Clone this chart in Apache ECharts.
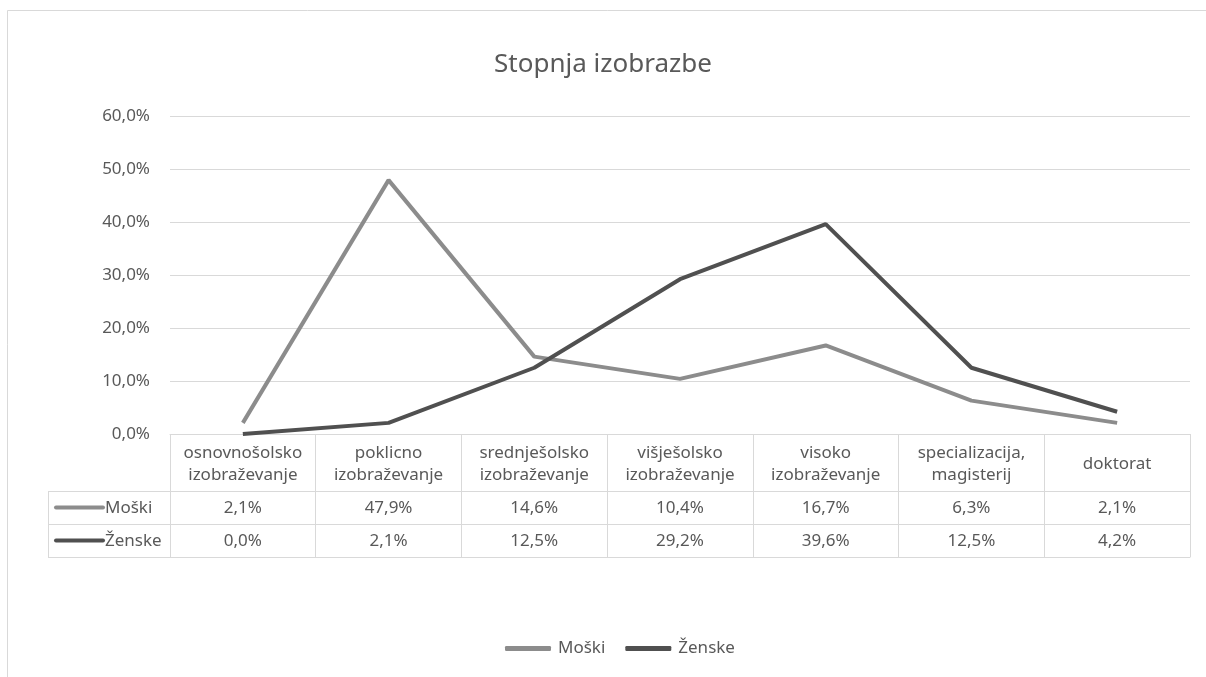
<!DOCTYPE html>
<html>
<head>
<meta charset="utf-8">
<script src="https://cdn.jsdelivr.net/npm/echarts@6/dist/echarts.min.js"></script>
<style>
  html, body { margin: 0; padding: 0; background: #fff; }
  #chart { width: 1206px; height: 677px; }
</style>
</head>
<body>
<div id="chart"></div>
<script>
// podatki
var categories = ['osnovnošolsko\nizobraževanje', 'poklicno\nizobraževanje', 'srednješolsko\nizobraževanje',
  'višješolsko\nizobraževanje', 'visoko\nizobraževanje', 'specializacija,\nmagisterij', 'doktorat'];
var moski = [2.1, 47.9, 14.6, 10.4, 16.7, 6.3, 2.1];
var zenske = [0.0, 2.1, 12.5, 29.2, 39.6, 12.5, 4.2];
var seriesNames = ['Moški', 'Ženske'];
var yMin = 0, yMax = 60, yStep = 10;

var colMoski = '#8c8c8c';
var colZenske = '#505050';
var textCol = '#595959';
var lineCol = '#d9d9d9';
var font = 'Noto Sans';
var fs = 17;

function fmt(v) {
  return v.toFixed(1).replace('.', ',') + '%';
}

// postavitev tabele
var gridLeft = 170, gridRight = 16, gridTop = 116, gridBottom = 243;
var tableLeft = 48;
var headH = 57, rowH = 33;
var axisY = 677 - gridBottom;

function rowLabel(y, name, color) {
  return {
    type: 'group',
    children: [
      { type: 'line', shape: { x1: 56, y1: y + rowH / 2, x2: 103, y2: y + rowH / 2 },
        style: { stroke: color, lineWidth: 4, lineCap: 'round' } },
      { type: 'text', x: 105, y: y + rowH / 2 + 1,
        style: { text: name, fill: textCol, font: fs + 'px "' + font + '"', textVerticalAlign: 'middle' } }
    ]
  };
}

function hLine(y) {
  return { type: 'line', shape: { x1: tableLeft, y1: y + 0.5, x2: gridLeft, y2: y + 0.5 },
    style: { stroke: lineCol, lineWidth: 1 } };
}

var chartDom = document.getElementById('chart');
var myChart = echarts.init(chartDom);
var option;

option = {
  backgroundColor: '#fff',
  animation: false,
  title: {
    text: 'Stopnja izobrazbe',
    left: 'center',
    top: 47,
    textStyle: { color: textCol, fontSize: 26, fontWeight: 'normal', fontFamily: font }
  },
  legend: {
    bottom: 15,
    left: 500,
    icon: 'roundRect',
    itemWidth: 46,
    itemHeight: 5,
    itemGap: 20,
    data: seriesNames,
    textStyle: { color: textCol, fontSize: fs, fontFamily: font, padding: [0, 0, 0, 2] }
  },
  grid: { left: gridLeft, right: gridRight, top: gridTop, bottom: gridBottom },
  xAxis: [
    {
      type: 'category', data: categories, boundaryGap: true,
      axisLine: { lineStyle: { color: lineCol } },
      axisTick: { show: true, interval: 0, length: headH, lineStyle: { color: lineCol } },
      axisLabel: {
        interval: 0, color: textCol, fontSize: fs, lineHeight: 22, margin: 8, fontFamily: font,
        formatter: function (v) {
          return v.indexOf('\n') < 0 ? '{one|' + v + '}' : v;
        },
        rich: { one: { fontSize: fs, lineHeight: 44, color: textCol, fontFamily: font } }
      }
    },
    {
      type: 'category', data: moski.map(fmt), position: 'bottom', offset: headH,
      axisLine: { lineStyle: { color: lineCol } },
      axisTick: { show: true, interval: 0, length: rowH, lineStyle: { color: lineCol } },
      axisLabel: { interval: 0, color: textCol, fontSize: fs, margin: 9, fontFamily: font }
    },
    {
      type: 'category', data: zenske.map(fmt), position: 'bottom', offset: headH + rowH,
      axisLine: { lineStyle: { color: lineCol } },
      axisTick: { show: true, interval: 0, length: rowH, lineStyle: { color: lineCol } },
      axisLabel: { interval: 0, color: textCol, fontSize: fs, margin: 9, fontFamily: font }
    },
    {
      type: 'category', data: categories, position: 'bottom', offset: headH + 2 * rowH,
      axisLine: { lineStyle: { color: lineCol } },
      axisTick: { show: false },
      axisLabel: { show: false }
    }
  ],
  yAxis: {
    type: 'value', min: yMin, max: yMax, interval: yStep,
    axisLine: { show: false },
    axisTick: { show: false },
    splitLine: { lineStyle: { color: lineCol } },
    axisLabel: { color: textCol, fontSize: fs, margin: 20, fontFamily: font, formatter: fmt }
  },
  series: [
    {
      name: seriesNames[0], type: 'line', data: moski, symbol: 'none',
      itemStyle: { color: colMoski },
      lineStyle: { width: 4, color: colMoski }
    },
    {
      name: seriesNames[1], type: 'line', data: zenske, symbol: 'none',
      itemStyle: { color: colZenske },
      lineStyle: { width: 4, color: colZenske }
    }
  ],
  graphic: [
    { type: 'rect', shape: { x: 7.5, y: 10.5, width: 1300, height: 800 },
      style: { fill: 'none', stroke: lineCol, lineWidth: 1 } },
    hLine(axisY + headH),
    hLine(axisY + headH + rowH),
    hLine(axisY + headH + 2 * rowH),
    { type: 'line', shape: { x1: tableLeft + 0.5, y1: axisY + headH, x2: tableLeft + 0.5, y2: axisY + headH + 2 * rowH },
      style: { stroke: lineCol, lineWidth: 1 } },
    rowLabel(axisY + headH, seriesNames[0], colMoski),
    rowLabel(axisY + headH + rowH, seriesNames[1], colZenske)
  ]
};

option && myChart.setOption(option);
</script>
</body>
</html>
